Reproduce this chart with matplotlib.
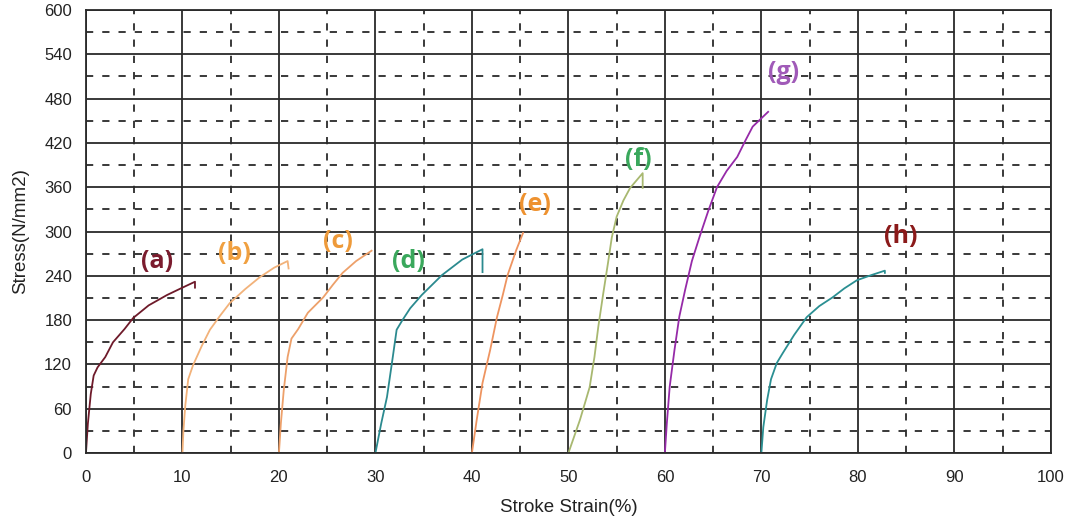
import matplotlib
matplotlib.use("Agg")
import matplotlib.pyplot as plt
import numpy as np

plt.rcParams['font.family'] = ['Liberation Sans', 'DejaVu Sans']

# Data
a_x = [0, 0.2, 0.5, 0.8, 1.2, 2.0, 2.8, 4.0, 4.9, 6.5, 8.4, 10.0, 11.3, 11.3]
a_y = [0, 40, 80, 105, 116, 130, 150, 168, 183, 200, 214, 224, 232, 224]
b_x = [10, 10.1, 10.3, 10.6, 11.1, 12.0, 12.85, 13.9, 14.9, 16.5, 18.0, 19.5, 20.9, 21.0]
b_y = [0, 30, 65, 100, 119, 145, 167, 186, 203, 222, 238, 251, 260, 250]
c_x = [20, 20.2, 20.5, 20.9, 21.3, 22.0, 23.0, 24.6, 25.6, 26.6, 28.0, 29.6]
c_y = [0, 40, 85, 130, 155, 168, 190, 211, 228, 244, 260, 274]
d_x = [30, 30.6, 31.2, 31.8, 32.2, 32.8, 33.6, 34.8, 36.9, 39.0, 41.1, 41.1]
d_y = [0, 40, 76, 130, 167, 180, 196, 214, 241, 262, 276, 245]
e_x = [40, 40.5, 41.1, 41.9, 42.6, 43.2, 43.7, 44.6, 45.3]
e_y = [0, 45, 95, 140, 184, 214, 241, 275, 298]
f_x = [50, 51.2, 52.2, 52.7, 53.1, 53.6, 54.1, 54.5, 55.0, 55.7, 56.4, 57.7, 57.7]
f_y = [0, 45, 89, 130, 171, 215, 257, 292, 320, 342, 359, 379, 359]
g_x = [60, 60.2, 60.5, 61.0, 61.5, 62.1, 62.8, 63.6, 64.5, 65.4, 66.4, 67.5, 68.3, 69.1, 70.7]
g_y = [0, 40, 90, 140, 185, 221, 260, 293, 328, 360, 382, 401, 422, 442, 462]
h_x = [70, 70.2, 70.6, 71.0, 71.6, 72.2, 73.4, 74.7, 76.0, 77.4, 78.6, 79.9, 81.4, 82.8, 82.8]
h_y = [0, 35, 72, 100, 122, 135, 160, 184, 199, 211, 223, 234, 241, 247, 244]

curve_x = [a_x, b_x, c_x, d_x, e_x, f_x, g_x, h_x]
curve_y = [a_y, b_y, c_y, d_y, e_y, f_y, g_y, h_y]
line_colors = ['#6e1a2a', '#f2b27a', '#eda06a', '#2b8a8f', '#ee9460', '#a8b870', '#962aa8', '#2a8f92']

labels = ['(a)', '(b)', '(c)', '(d)', '(e)', '(f)', '(g)', '(h)']
label_x = [7.4, 15.4, 26.1, 33.4, 46.5, 57.2, 72.3, 84.4]
label_y = [259, 270, 287, 260, 336, 397, 515, 293]
label_colors = ['#7b1c2e', '#f0a040', '#ee9a3a', '#3aa85c', '#ee9230', '#3aa85c', '#a05ab8', '#8b1a1a']

xticks = list(range(0, 101, 10))
yticks = list(range(0, 601, 60))

fig = plt.figure(figsize=(10.69, 5.22), dpi=100)
ax = fig.add_axes([0.0804, 0.132, 0.9026, 0.849])

ax.set_xlim(0, 100)
ax.set_ylim(0, 600)
ax.set_xticks(xticks)
ax.set_yticks(yticks)
ax.set_xticks(np.arange(5, 100, 10), minor=True)
ax.set_yticks(np.arange(30, 600, 60), minor=True)
ax.grid(which='major', color='#2a2a2a', linewidth=1.3, linestyle='-')
ax.grid(which='minor', color='#2a2a2a', linewidth=1.3, linestyle=(0, (4, 5)))
ax.set_axisbelow(True)
ax.tick_params(which='both', length=0, labelsize=12, colors='#222222')
ax.tick_params(axis='x', pad=12)
ax.tick_params(axis='y', pad=10)
for s in ax.spines.values():
    s.set_color('#2a2a2a')
    s.set_linewidth(1.3)

for xs, ys, c in zip(curve_x, curve_y, line_colors):
    ax.plot(xs, ys, color=c, linewidth=1.3)

for t, x, y, c in zip(labels, label_x, label_y, label_colors):
    ax.text(x, y, t, color=c, fontsize=18, fontweight='bold', ha='center', va='center',
            family=['Open Sans', 'DejaVu Sans'])

ax.set_xlabel('Stroke Strain(%)', fontsize=13.5, color='#222222', labelpad=10)
ax.set_ylabel('Stress(N/mm2)', fontsize=13.5, color='#222222', labelpad=11)

fig.savefig('out.png', dpi=100)
